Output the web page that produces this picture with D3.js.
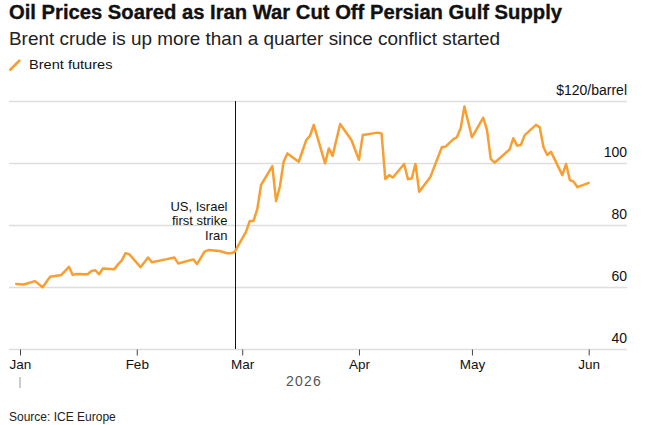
<!DOCTYPE html>
<html><head><meta charset="utf-8">
<script src="https://cdn.jsdelivr.net/npm/d3@7"></script>
<style>
body{margin:0;background:#fff;}
text{font-family:"Liberation Sans",Arial,sans-serif;fill:#111;}
</style></head>
<body><svg id="c" width="662" height="425"></svg>
<script>
const dates = ["2025-12-31","2026-01-02","2026-01-05","2026-01-07","2026-01-09","2026-01-12","2026-01-14","2026-01-15","2026-01-16","2026-01-19","2026-01-20","2026-01-21","2026-01-22","2026-01-23","2026-01-26","2026-01-27","2026-01-28","2026-01-29","2026-01-30","2026-02-02","2026-02-04","2026-02-05","2026-02-09","2026-02-10","2026-02-11","2026-02-12","2026-02-16","2026-02-17","2026-02-19","2026-02-20","2026-02-23","2026-02-25","2026-02-26","2026-02-27","2026-03-02","2026-03-03","2026-03-04","2026-03-05","2026-03-06","2026-03-09","2026-03-10","2026-03-11","2026-03-12","2026-03-13","2026-03-16","2026-03-18","2026-03-19","2026-03-20","2026-03-23","2026-03-24","2026-03-25","2026-03-27","2026-03-30","2026-04-01","2026-04-02","2026-04-06","2026-04-07","2026-04-08","2026-04-09","2026-04-10","2026-04-13","2026-04-14","2026-04-15","2026-04-16","2026-04-17","2026-04-20","2026-04-23","2026-04-24","2026-04-26","2026-04-27","2026-04-28","2026-04-29","2026-05-01","2026-05-04","2026-05-05","2026-05-06","2026-05-07","2026-05-11","2026-05-12","2026-05-13","2026-05-14","2026-05-15","2026-05-18","2026-05-19","2026-05-20","2026-05-21","2026-05-22","2026-05-25","2026-05-26","2026-05-27","2026-05-28","2026-05-29","2026-06-01"];
const brent = [61.0,60.8,61.9,59.9,63.3,63.9,66.5,63.9,64.2,64.1,65.2,65.4,64.1,66.0,65.7,67.3,68.5,70.9,70.6,66.4,69.5,68.0,69.0,69.3,69.5,67.6,68.9,67.4,71.4,71.9,71.6,70.9,70.9,71.3,77.8,81.3,81.3,85.1,92.9,99.0,87.7,92.4,100.4,103.1,100.4,107.4,108.8,112.3,99.9,104.7,102.3,112.6,107.4,101.0,109.0,109.8,109.5,94.8,96.1,95.3,99.7,94.8,95.0,99.7,90.7,95.6,105.1,105.3,107.6,108.3,111.2,118.2,108.3,114.6,110.6,101.3,100.1,104.4,108.0,105.6,105.8,109.0,112.3,111.5,105.1,102.6,103.6,96.1,99.7,94.5,94.0,92.2,93.6];
const yTicks = [40,60,80,100,120];
const monthTicks = ["2026-01-01","2026-02-01","2026-03-01","2026-04-01","2026-05-01","2026-06-01"];
const eventDate = "2026-02-27T04:00";
const eventLines = ["US, Israel","first strike","Iran"];
const yearLabel = "2026";
const title = "Oil Prices Soared as Iran War Cut Off Persian Gulf Supply";
const subtitle = "Brent crude is up more than a quarter since conflict started";
const legendLabel = "Brent futures";
const source = "Source: ICE Europe";

const parse = d3.isoParse;
const data = dates.map((d,i)=>({date:parse(d), v:brent[i]}));
const svg = d3.select("#c");
const orange = "#f99f32";

const x = d3.scaleTime().domain([parse("2026-01-01"), parse("2026-06-01")]).range([20, 588.7]);
const y = d3.scaleLinear().domain([40,120]).range([349,101]);
const gL = 9, gR = 627;

// title
svg.append("text").attr("x",9).attr("y",18.5).attr("font-size",20).attr("font-weight","bold")
  .attr("textLength",553).attr("lengthAdjust","spacingAndGlyphs")
  .style("stroke","#111").style("stroke-width",0.35).text(title);
svg.append("text").attr("x",9).attr("y",45).attr("font-size",18.5)
  .attr("textLength",491).attr("lengthAdjust","spacingAndGlyphs").style("fill","#222").text(subtitle);
// legend
svg.append("line").attr("x1",9.5).attr("y1",70.5).attr("x2",20).attr("y2",60)
  .attr("stroke",orange).attr("stroke-width",2.6).attr("stroke-linecap","butt");
svg.append("text").attr("x",29).attr("y",68.5).attr("font-size",13.5)
  .attr("textLength",83.5).attr("lengthAdjust","spacingAndGlyphs").text(legendLabel);

// y axis + gridlines
const yAxis = d3.axisRight(y).tickValues(yTicks).tickSize(gR-gL)
  .tickFormat(d => d===120 ? "$120/barrel" : d);
const gy = svg.append("g").attr("transform",`translate(${gL},0)`).call(yAxis);
gy.select(".domain").remove();
gy.selectAll(".tick line").attr("stroke","#dedede").attr("stroke-width",1.5);
gy.selectAll(".tick text").attr("x",gR-gL).attr("dy",-6.8).attr("text-anchor","end")
  .attr("font-size",14).style("font-family","'Liberation Sans',Arial,sans-serif").attr("fill","#111");

// x axis
const xAxis = d3.axisBottom(x).tickValues(monthTicks.map(parse)).tickSize(6).tickPadding(4)
  .tickFormat(d3.timeFormat("%b"));
const gx = svg.append("g").attr("transform",`translate(0,${y(40)+0.5})`).call(xAxis);
gx.select(".domain").remove();
gx.selectAll(".tick line").attr("stroke","#444").attr("stroke-width",1);
gx.selectAll(".tick text").attr("font-size",13.5).style("font-family","'Liberation Sans',Arial,sans-serif").attr("fill","#111");
// year marker
svg.append("line").attr("x1",x(parse("2026-01-01"))).attr("x2",x(parse("2026-01-01")))
  .attr("y1",377).attr("y2",388).attr("stroke","#999").attr("stroke-width",1);
svg.append("text").attr("x",322).attr("y",386).attr("text-anchor","end").attr("font-size",14)
  .attr("letter-spacing",1.2).style("fill","#555").text(yearLabel);

// event line
const ex = Math.round(x(parse(eventDate)))+0.5;
svg.append("line").attr("x1",ex).attr("x2",ex).attr("y1",y(120)).attr("y2",y(40))
  .attr("stroke","#111").attr("stroke-width",1);
const et = svg.append("text").attr("x",ex-8).attr("text-anchor","end").attr("font-size",13);
eventLines.forEach((t,i)=> et.append("tspan").attr("x",ex-8).attr("y",211+i*14.3).text(t));

// line
svg.append("path").datum(data)
  .attr("d", d3.line().x(d=>x(d.date)).y(d=>y(d.v)))
  .attr("fill","none").attr("stroke",orange).attr("stroke-width",2.5)
  .attr("stroke-linejoin","round").attr("stroke-linecap","round");

// source
svg.append("text").attr("x",9).attr("y",421).attr("font-size",12).style("fill","#222").text(source);
</script></body></html>
